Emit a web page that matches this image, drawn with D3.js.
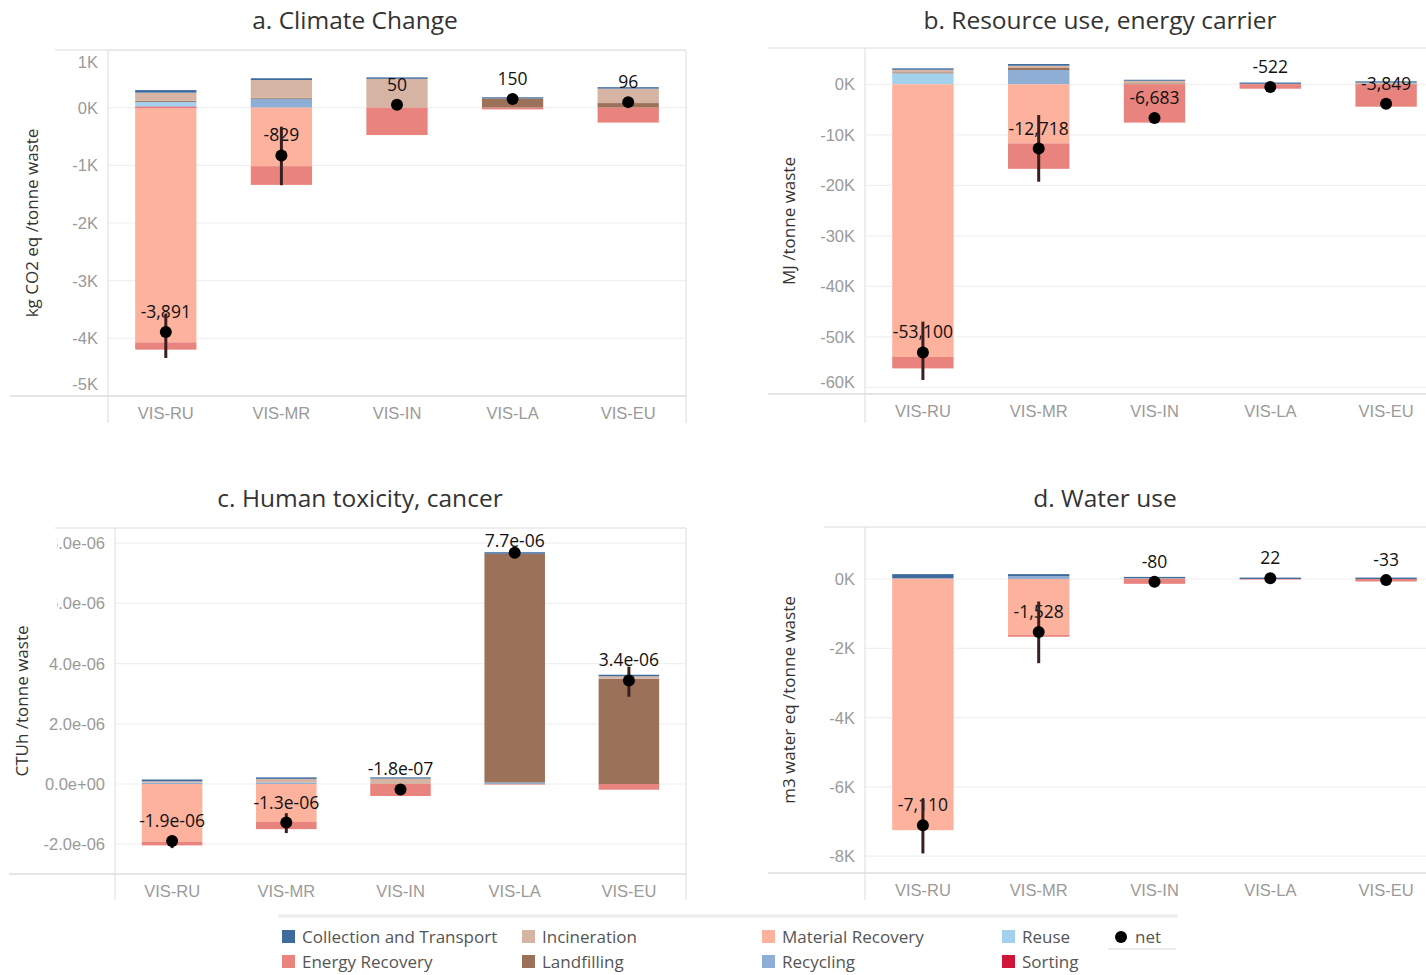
<!DOCTYPE html>
<html>
<head>
<meta charset="utf-8">
<script src="https://cdn.jsdelivr.net/npm/d3@7"></script>
<style>
  body { margin: 0; background: #fff; }
  svg { display: block; font-family: "Open Sans", Roboto, sans-serif; }
</style>
</head>
<body>
<svg id="chart" width="1426" height="975"></svg>
<script>
// ---------- data ----------
const sites = ["VIS-RU", "VIS-MR", "VIS-IN", "VIS-LA", "VIS-EU"];
const processes = ["Collection and Transport", "Energy Recovery", "Incineration", "Landfilling",
                   "Material Recovery", "Recycling", "Reuse", "Sorting"];
const processColors = ["#3e6b9e", "#e8837e", "#d6b4a4", "#9b7259",
                       "#fcb29c", "#8faed5", "#a3d0ec", "#cf1638"];
// stacking order, from the zero line outwards
const stackOrder = ["Sorting", "Reuse", "Recycling", "Material Recovery",
                    "Landfilling", "Incineration", "Energy Recovery", "Collection and Transport"];

// rows follow `sites`, columns follow `processes`
const climateChange = [
  [45, -126, 140, 20, -4070, 0, 80, 20],
  [30, -325, 310, 15, -1014, 155, 0, 0],
  [25, -475, 500, 0, 0, 0, 0, 0],
  [20, -30, 0, 160, 0, 0, 0, 0],
  [25, -259, 250, 80, 0, 0, 0, 0]
];
const climateNet = [-3891, -829, 50, 150, 96];
const climateErrLow = [-4340, -1345, null, null, null];
const climateErrHigh = [-3570, -330, null, null, null];
const climateTicks = [1000, 0, -1000, -2000, -3000, -4000, -5000];

const resourceUse = [
  [280, -2260, 500, 200, -54000, 0, 2180, 0],
  [340, -5038, 450, 400, -11700, 2830, 0, 0],
  [200, -7583, 500, 200, 0, 0, 0, 0],
  [250, -872, 0, 100, 0, 0, 0, 0],
  [250, -4435, 200, 136, 0, 0, 0, 0]
];
const resourceNet = [-53100, -12718, -6683, -522, -3849];
const resourceErrLow = [-58550, -19290, -7000, null, null];
const resourceErrHigh = [-47000, -6080, -6350, null, null];
const resourceTicks = [0, -10000, -20000, -30000, -40000, -50000, -60000];

const humanToxicity = [
  [0.06e-6, -0.12e-6, 0.05e-6, 0, -1.92e-6, 0.04e-6, 0, 0],
  [0.05e-6, -0.24e-6, 0.12e-6, 0, -1.26e-6, 0.05e-6, 0, 0],
  [0.04e-6, -0.40e-6, 0.18e-6, 0, 0, 0, 0, 0],
  [0.05e-6, -0.02e-6, 0, 7.60e-6, 0, 0.05e-6, 0, 0],
  [0.05e-6, -0.19e-6, 0.08e-6, 3.50e-6, 0, 0, 0, 0]
];
const toxicityNet = [-1.89e-6, -1.28e-6, -1.8e-7, 7.68e-6, 3.44e-6];
const toxicityErrLow = [-2.13e-6, -1.63e-6, null, null, 2.9e-6];
const toxicityErrHigh = [-1.75e-6, -0.97e-6, null, null, 3.9e-6];
const toxicityTicks = [8e-6, 6e-6, 4e-6, 2e-6, 0, -2e-6];

const waterUse = [
  [120, 0, 20, 0, -7250, 0, 0, 0],
  [60, -50, 0, 0, -1618, 80, 0, 0],
  [40, -140, 20, 0, 0, 0, 0, 0],
  [40, -18, 0, 0, 0, 0, 0, 0],
  [40, -73, 0, 0, 0, 0, 0, 0]
];
const waterNet = [-7110, -1528, -80, 22, -33];
const waterErrLow = [-7920, -2430, null, null, null];
const waterErrHigh = [-6380, -650, null, null, null];
const waterTicks = [0, -2000, -4000, -6000, -8000];

// ---------- formatting ----------
const locale = d3.formatLocale({ decimal: ".", thousands: ",", grouping: [3], currency: ["", ""], minus: "-" });
const commaFmt = locale.format(",.0f");
const kFmt = v => String(Math.round(v / 1000)) + "K";
const expFmt = v => v.toExponential(1).replace(/e([+-])(\d)$/, "e$10$2");

const color = d3.scaleOrdinal().domain(processes).range(processColors);

// ---------- panel layout ----------
const panels = [
  { title: "a. Climate Change", titleX: 355, titleY: 29, left: 108, right: 686, top: 50, bottom: 396,
    domain: [-5000, 1000], ticks: climateTicks, tickFmt: kFmt, labelFmt: commaFmt,
    yTitle: "kg CO2 eq /tonne waste", yTitleX: 32,
    values: climateChange, net: climateNet, errLow: climateErrLow, errHigh: climateErrHigh,
    baseFrom: 10, topFrom: 55, frameRight: true, axisDown: 423 },
  { title: "b. Resource use, energy carrier", titleX: 1100, titleY: 29, left: 865, right: 1444, top: 48, bottom: 394,
    domain: [-61330, 7190], ticks: resourceTicks, tickFmt: kFmt, labelFmt: commaFmt,
    yTitle: "MJ /tonne waste", yTitleX: 789,
    values: resourceUse, net: resourceNet, errLow: resourceErrLow, errHigh: resourceErrHigh,
    baseFrom: 768, topFrom: 768, frameRight: false, axisDown: 423 },
  { title: "c. Human toxicity, cancer", titleX: 360, titleY: 507, left: 115, right: 686, top: 528, bottom: 874,
    domain: [-2.99e-6, 8.505e-6], ticks: toxicityTicks, tickFmt: expFmt, labelFmt: expFmt,
    yTitle: "CTUh /tonne waste", yTitleX: 22, clipTicksAbove: 5e-6, clipTickX: 57,
    values: humanToxicity, net: toxicityNet, errLow: toxicityErrLow, errHigh: toxicityErrHigh,
    baseFrom: 9, topFrom: 55, frameRight: true, axisDown: 900 },
  { title: "d. Water use", titleX: 1105, titleY: 507, left: 865, right: 1444, top: 527, bottom: 873,
    domain: [-8485, 1500], ticks: waterTicks, tickFmt: kFmt, labelFmt: commaFmt,
    yTitle: "m3 water eq /tonne waste", yTitleX: 789,
    values: waterUse, net: waterNet, errLow: waterErrLow, errHigh: waterErrHigh,
    baseFrom: 768, topFrom: 824, frameRight: false, axisDown: 900 }
];

const svg = d3.select("#chart");
const frameColor = "#dcdcdc";

panels.forEach((p, pi) => {
  const g = svg.append("g");

  const x = d3.scaleBand().domain(sites).range([p.left, p.right])
    .paddingInner(0.47).paddingOuter(0.235);
  const y = d3.scaleLinear().domain(p.domain).range([p.bottom, p.top]);

  // title
  g.append("text").attr("x", p.titleX).attr("y", p.titleY)
    .attr("text-anchor", "middle")
    .attr("font-size", 24.5).attr("fill", "#333").text(p.title);

  // gridlines
  g.append("g").selectAll("line").data(p.ticks).join("line")
    .attr("x1", p.left).attr("x2", p.right)
    .attr("y1", d => y(d)).attr("y2", d => y(d))
    .attr("stroke", "#f0f0f0").attr("stroke-width", 1.2);

  // frame
  g.append("line").attr("x1", p.topFrom).attr("x2", p.right).attr("y1", p.top).attr("y2", p.top)
    .attr("stroke", frameColor);
  g.append("line").attr("x1", p.baseFrom).attr("x2", p.right).attr("y1", p.bottom).attr("y2", p.bottom)
    .attr("stroke", frameColor).attr("stroke-width", 1.5);
  g.append("line").attr("x1", p.left).attr("x2", p.left).attr("y1", p.top).attr("y2", p.axisDown)
    .attr("stroke", frameColor);
  if (p.frameRight) {
    g.append("line").attr("x1", p.right).attr("x2", p.right).attr("y1", p.top).attr("y2", p.axisDown)
      .attr("stroke", frameColor);
  }

  // y axis
  const yAxis = g.append("g").attr("transform", `translate(${p.left - 7},0)`)
    .call(d3.axisLeft(y).tickValues(p.ticks).tickFormat(p.tickFmt).tickSize(0));
  yAxis.select(".domain").remove();
  yAxis.selectAll("text").attr("font-size", 16.5).attr("fill", "#9a9a9a")
    .attr("dy", d => {
      const yy = y(d);
      let shift = 0;
      if (yy < p.top + 12) shift = p.top + 12 - yy;
      if (yy > p.bottom - 12) shift = p.bottom - 12 - yy;
      return (shift + 5.5) + "px";
    });
  if (p.clipTicksAbove !== undefined) {
    // the narrow label column cuts off the leading digit of the upper labels
    yAxis.selectAll(".tick").filter(d => d > p.clipTicksAbove).each(function (d, i) {
      const clipId = `tickclip${pi}_${i}`;
      const tick = d3.select(this);
      tick.append("clipPath").attr("id", clipId).append("rect")
        .attr("x", p.clipTickX - (p.left - 7)).attr("y", -20)
        .attr("width", p.left - p.clipTickX).attr("height", 40);
      tick.select("text").attr("clip-path", `url(#${clipId})`);
    });
  }

  // y axis title
  g.append("text")
    .attr("transform", `translate(${p.yTitleX},${(p.top + p.bottom) / 2}) rotate(-90)`)
    .attr("text-anchor", "middle").attr("dy", "0.35em")
    .attr("font-size", 17).attr("fill", "#333").text(p.yTitle);

  // x axis
  const xAxis = g.append("g").attr("transform", `translate(0,${p.bottom + 8})`)
    .call(d3.axisBottom(x).tickSize(0));
  xAxis.select(".domain").remove();
  xAxis.selectAll("text").attr("font-size", 16.5).attr("fill", "#9a9a9a");

  // stacked bars
  const rows = sites.map((s, i) => {
    const r = { site: s };
    processes.forEach((k, j) => { r[k] = p.values[i][j]; });
    return r;
  });
  const series = d3.stack().keys(stackOrder).offset(d3.stackOffsetDiverging)(rows);
  g.append("g").selectAll("g").data(series).join("g")
    .attr("fill", d => color(d.key))
    .selectAll("rect").data(d => d).join("rect")
    .attr("x", d => x(d.data.site))
    .attr("width", x.bandwidth())
    .attr("y", d => y(Math.max(d[0], d[1])))
    .attr("height", d => Math.abs(y(d[0]) - y(d[1])));

  // net labels
  g.append("g").selectAll("text").data(sites).join("text")
    .attr("x", d => x(d) + x.bandwidth() / 2)
    .attr("y", (d, i) => Math.max(y(p.net[i]) - 14, p.top + 19))
    .attr("text-anchor", "middle").attr("font-size", 17.5)
    .attr("fill", "#111")
    .text((d, i) => p.labelFmt(p.net[i]));

  // error bars
  g.append("g").selectAll("line").data(sites.filter((d, i) => p.errLow[i] !== null)).join("line")
    .attr("x1", d => x(d) + x.bandwidth() / 2).attr("x2", d => x(d) + x.bandwidth() / 2)
    .attr("y1", d => y(p.errLow[sites.indexOf(d)]))
    .attr("y2", d => y(p.errHigh[sites.indexOf(d)]))
    .attr("stroke", "#3b1f1f").attr("stroke-width", 3);

  // net dots
  g.append("g").selectAll("circle").data(sites).join("circle")
    .attr("cx", d => x(d) + x.bandwidth() / 2)
    .attr("cy", (d, i) => y(p.net[i]))
    .attr("r", 6).attr("fill", "#000");
});

// ---------- legend ----------
const legend = svg.append("g");
legend.append("line").attr("x1", 278).attr("x2", 1178).attr("y1", 916).attr("y2", 916)
  .attr("stroke", "#ececec").attr("stroke-width", 3);
const colX = [282, 522, 762, 1002];
const rowY = [937, 962];
processes.forEach((k, i) => {
  const cx = colX[Math.floor(i / 2)], cy = rowY[i % 2];
  legend.append("rect").attr("x", cx).attr("y", cy - 7).attr("width", 13).attr("height", 13)
    .attr("fill", color(k));
  legend.append("text").attr("x", cx + 20).attr("y", cy).attr("dy", "0.35em")
    .attr("font-size", 17).attr("fill", "#555").text(k);
});
legend.append("circle").attr("cx", 1121).attr("cy", rowY[0]).attr("r", 6).attr("fill", "#000");
legend.append("text").attr("x", 1135).attr("y", rowY[0]).attr("dy", "0.35em")
  .attr("font-size", 17).attr("fill", "#555").text("net");
legend.append("line").attr("x1", 1108).attr("x2", 1176).attr("y1", 949).attr("y2", 949)
  .attr("stroke", "#e4e4e4").attr("stroke-width", 1.5);
</script>
</body>
</html>
